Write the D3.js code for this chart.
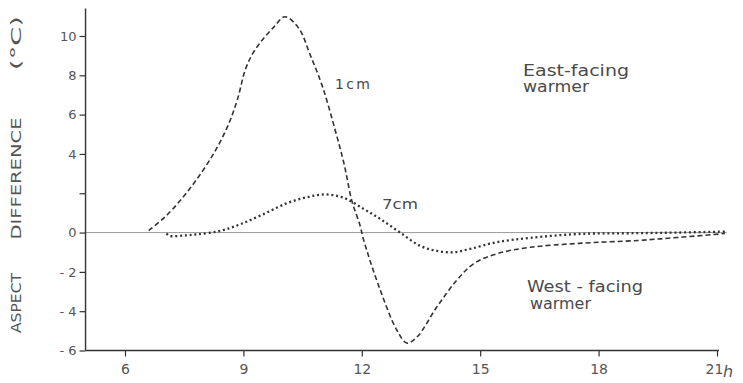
<!DOCTYPE html>
<html>
<head>
<meta charset="utf-8">
<script src="https://cdn.jsdelivr.net/npm/d3@7"></script>
<style>
  html, body { margin: 0; padding: 0; background: #fff; }
  svg { display: block; }
  text { font-family: "DejaVu Sans", "Liberation Sans", sans-serif; fill: #4a4a4a; }
</style>
</head>
<body>
<svg id="chart" width="743" height="383"></svg>
<script>
// ---- data ----
const hours1cm = [6.6, 7.0, 7.4, 7.8, 8.25, 8.6, 8.85, 9.05, 9.25, 9.5, 9.77, 10.05, 10.4, 10.7, 11.0, 11.3, 11.55, 11.75, 11.95, 12.05, 12.47, 12.89, 13.14, 13.4, 13.9, 14.4, 14.83, 15.42, 16.27, 17.5, 19.0, 20.0, 21.2];
const values1cm = [0.1, 0.77, 1.63, 2.66, 4.03, 5.4, 6.78, 8.3, 9.15, 9.85, 10.45, 10.98, 10.4, 9.0, 7.45, 5.4, 3.5, 1.6, 0.4, -0.4, -2.94, -4.97, -5.62, -5.31, -3.79, -2.44, -1.59, -1.08, -0.75, -0.55, -0.4, -0.25, -0.05];

const hours7cm = [7.05, 7.14, 7.5, 7.83, 8.42, 8.93, 9.51, 10.1, 10.61, 11.07, 11.54, 12.05, 12.47, 12.97, 13.48, 13.9, 14.32, 14.75, 15.42, 16.27, 17.53, 19.0, 20.0, 21.2];
const values7cm = [-0.05, -0.17, -0.15, -0.09, 0.09, 0.43, 0.94, 1.49, 1.8, 1.94, 1.77, 1.2, 0.69, 0.0, -0.68, -0.93, -1.0, -0.83, -0.49, -0.27, -0.07, -0.03, 0.0, 0.05];

const xTicks = [6, 9, 12, 15, 18, 21];
const yTicks = [-6, -4, -2, 0, 2, 4, 6, 8, 10];
const yTickLabels = ["- 6", "- 4", "- 2", "0", "", "4", "6", "8", "10"];
const yLabelParts = ["ASPECT", "DIFFERENCE", "(°C)"];
const seriesLabels = ["1cm", "7cm"];
const eastLabel = ["East-facing", "warmer"];
const westLabel = ["West - facing", "warmer"];

// ---- scales ----
const svg = d3.select("#chart");
const x = d3.scaleLinear().domain([6, 21]).range([125, 717]);
const y = d3.scaleLinear().domain([-6, 10]).range([350.5, 36]);

const ink = "#333";

// zero reference line
svg.append("line")
  .attr("x1", x(5)).attr("x2", x(21.25))
  .attr("y1", y(0)).attr("y2", y(0))
  .attr("stroke", "#9a9a9a").attr("stroke-width", 1);

// y axis
const yAxis = d3.axisLeft(y)
  .tickValues(yTicks)
  .tickFormat((d, i) => yTickLabels[i])
  .tickSize(6).tickPadding(3);
const gy = svg.append("g").attr("transform", `translate(${x(5)},0)`).call(yAxis);
gy.select(".domain").remove();
gy.selectAll(".tick line").attr("stroke", ink).attr("stroke-width", 1.2);
gy.selectAll(".tick text").style("font-size", "13px").style("fill", "#555").attr("font-family", null);
svg.append("line")
  .attr("x1", x(5)).attr("x2", x(5))
  .attr("y1", y(11.4)).attr("y2", y(-6))
  .attr("stroke", ink).attr("stroke-width", 1.4);

// x axis
const xAxis = d3.axisBottom(x)
  .tickValues(xTicks)
  .tickFormat(d => d)
  .tickSize(6).tickPadding(8);
const gx = svg.append("g").attr("transform", `translate(0,${y(-6)})`).call(xAxis);
gx.select(".domain").remove();
gx.selectAll(".tick line").attr("stroke", ink).attr("stroke-width", 1.2);
gx.selectAll(".tick text").style("font-size", "14px").style("fill", "#555").attr("font-family", null)
  .attr("dx", d => d === 21 ? -3 : 0);
svg.append("line")
  .attr("x1", x(5)).attr("x2", x(21.05))
  .attr("y1", y(-6)).attr("y2", y(-6))
  .attr("stroke", ink).attr("stroke-width", 1.4);
svg.append("text")
  .attr("x", x(21) + 6).attr("y", y(-6) + 26)
  .style("font-size", "16px").style("font-style", "italic").style("fill", "#555")
  .text("h");

// curves
const line = d3.line().x(d => x(d[0])).y(d => y(d[1])).curve(d3.curveCatmullRom.alpha(0.5));
svg.append("path")
  .datum(d3.zip(hours1cm, values1cm))
  .attr("d", line)
  .attr("fill", "none").attr("stroke", ink)
  .attr("stroke-width", 1.6).attr("stroke-dasharray", "5,3");
svg.append("path")
  .datum(d3.zip(hours7cm, values7cm))
  .attr("d", line)
  .attr("fill", "none").attr("stroke", ink)
  .attr("stroke-width", 2.3).attr("stroke-dasharray", "2,2.8");

// y label (rotated, words spread out)
const yLab = [
  { t: yLabelParts[0], c: 303, w: 60 },
  { t: yLabelParts[1], c: 178.5, w: 122 },
  { t: yLabelParts[2], c: 43, w: 54 }
];
yLab.forEach(p => {
  svg.append("text")
    .attr("transform", `translate(21,${p.c}) rotate(-90)`)
    .attr("text-anchor", "middle")
    .attr("textLength", p.w).attr("lengthAdjust", "spacingAndGlyphs")
    .style("font-size", "14.5px").style("fill", "#555")
    .text(p.t);
});

// series labels
svg.append("text").attr("x", 335).attr("y", 89)
  .attr("textLength", 35).attr("lengthAdjust", "spacing")
  .style("font-size", "14px").text(seriesLabels[0]);
svg.append("text").attr("x", 382).attr("y", 208.5)
  .attr("textLength", 36).attr("lengthAdjust", "spacingAndGlyphs")
  .style("font-size", "14px").text(seriesLabels[1]);

// annotation labels
svg.append("text").attr("x", 523).attr("y", 75.5)
  .attr("textLength", 106).attr("lengthAdjust", "spacingAndGlyphs")
  .style("font-size", "15.5px").text(eastLabel[0]);
svg.append("text").attr("x", 523).attr("y", 92)
  .attr("textLength", 66).attr("lengthAdjust", "spacingAndGlyphs")
  .style("font-size", "15.5px").text(eastLabel[1]);
svg.append("text").attr("x", 527).attr("y", 291.5)
  .attr("textLength", 116).attr("lengthAdjust", "spacingAndGlyphs")
  .style("font-size", "15.5px").text(westLabel[0]);
svg.append("text").attr("x", 530).attr("y", 308.5)
  .attr("textLength", 61).attr("lengthAdjust", "spacingAndGlyphs")
  .style("font-size", "15.5px").text(westLabel[1]);
</script>
</body>
</html>
